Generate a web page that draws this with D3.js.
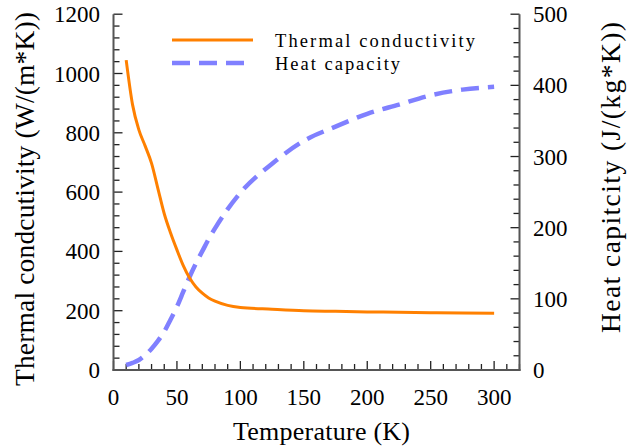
<!DOCTYPE html>
<html>
<head>
<meta charset="utf-8">
<script src="https://cdn.jsdelivr.net/npm/d3@7"></script>
<style>
body{margin:0;background:#fff;}
svg text{font-family:"Liberation Serif","Tinos","Times New Roman",Times,"Nimbus Roman","DejaVu Serif",serif;}
</style>
</head>
<body>
<svg id="chart" width="627" height="448"></svg>
<script>
const temperature = [10,15,20,25,30,35,40,45,50,55,60,65,70,75,80,90,100,125,150,175,200,225,250,275,300];
const conductivity = [1045,895,810,755,697,612,527,462,405,352,310,280,259,243,232,218,211,205,200,198,196,195,193,192,191];
const heatCapacity = [7,10,14,21,30,41,54,71,89,110,131,150,167,184,199,226,249,290,322,342,360,373,386,394,398];
const xTicks = [0,50,100,150,200,250,300];
const yLeftTicks = [0,200,400,600,800,1000,1200];
const yRightTicks = [0,100,200,300,400,500];
const seriesNames = ["Thermal conductivity","Heat capacity"];
const colors = ["#ff8000","#8080ff"];

const FONT = '"Liberation Serif","Tinos","Times New Roman",Times,"Nimbus Roman","DejaVu Serif",serif';
const svg = d3.select("#chart");
const L = 113.5, R = 519.5, T = 14.2, B = 370;
const x = d3.scaleLinear().domain([0,320]).range([L,R]);
const yL = d3.scaleLinear().domain([0,1200]).range([B,T]);
const yR = d3.scaleLinear().domain([0,500]).range([B,T]);

const g = svg.append("g");
d3.range(0,321,10).forEach(v=>{
  const major = v%50===0;
  g.append("line").attr("x1",x(v)).attr("x2",x(v)).attr("y1",B).attr("y2",B-(major?9:6)).attr("stroke","#222").attr("stroke-width",1.3);
});
d3.range(0,1201,40).forEach(v=>{
  const major = v%200===0;
  g.append("line").attr("x1",L).attr("x2",L+(major?9:6)).attr("y1",yL(v)).attr("y2",yL(v)).attr("stroke","#222").attr("stroke-width",1.3);
});
d3.range(0,501,20).forEach(v=>{
  const major = v%100===0;
  g.append("line").attr("x1",R).attr("x2",R-(major?9:6)).attr("y1",yR(v)).attr("y2",yR(v)).attr("stroke","#222").attr("stroke-width",1.3);
});

g.append("line").attr("x1",L).attr("x2",L).attr("y1",T).attr("y2",B+1).attr("stroke","#555").attr("stroke-width",2);
g.append("line").attr("x1",R).attr("x2",R).attr("y1",T).attr("y2",B+1).attr("stroke","#555").attr("stroke-width",2);
g.append("line").attr("x1",L-1).attr("x2",R+1).attr("y1",B).attr("y2",B).attr("stroke","#555").attr("stroke-width",2);

function txt(){ return svg.append("text").attr("font-family",FONT).attr("fill","#000"); }
xTicks.forEach(v=>{
  txt().attr("x",x(v)).attr("y",405).attr("text-anchor","middle").attr("font-size",23).text(v);
});
yLeftTicks.forEach(v=>{
  txt().attr("x",100).attr("y",yL(v)+8).attr("text-anchor","end").attr("font-size",23).text(v);
});
yRightTicks.forEach(v=>{
  txt().attr("x",533).attr("y",yR(v)+8).attr("text-anchor","start").attr("font-size",23).text(v);
});

txt().attr("x",233).attr("y",440).attr("font-size",26).attr("textLength",177).attr("lengthAdjust","spacing").text("Temperature (K)");
txt().attr("transform","translate(33.5,386) rotate(-90)").attr("font-size",27.5).attr("textLength",374).attr("lengthAdjust","spacing").text("Thermal condcutivity (W/(m*K))");
txt().attr("transform","translate(620,333) rotate(-90)").attr("font-size",27.5).attr("textLength",311).attr("lengthAdjust","spacing").text("Heat capitcity (J/(kg*K))");

const lineL = d3.line().x((d,i)=>x(temperature[i])).y(d=>yL(d)).curve(d3.curveMonotoneX);
const lineR = d3.line().x((d,i)=>x(temperature[i])).y(d=>yR(d)).curve(d3.curveMonotoneX);
svg.append("path").datum(heatCapacity).attr("d",lineR).attr("fill","none").attr("stroke",colors[1]).attr("stroke-width",4.5).attr("stroke-dasharray","18,9");
svg.append("path").datum(conductivity).attr("d",lineL).attr("fill","none").attr("stroke",colors[0]).attr("stroke-width",3);

const leg = svg.append("g");
leg.append("line").attr("x1",172).attr("x2",253).attr("y1",40).attr("y2",40).attr("stroke",colors[0]).attr("stroke-width",3);
leg.append("line").attr("x1",172).attr("x2",245).attr("y1",63).attr("y2",63).attr("stroke",colors[1]).attr("stroke-width",4.5).attr("stroke-dasharray","18,9");
txt().attr("x",275).attr("y",46.5).attr("font-size",18.5).attr("textLength",200).attr("lengthAdjust","spacing").text(seriesNames[0]);
txt().attr("x",275).attr("y",69.5).attr("font-size",18.5).attr("textLength",125).attr("lengthAdjust","spacing").text(seriesNames[1]);
</script>
</body>
</html>
